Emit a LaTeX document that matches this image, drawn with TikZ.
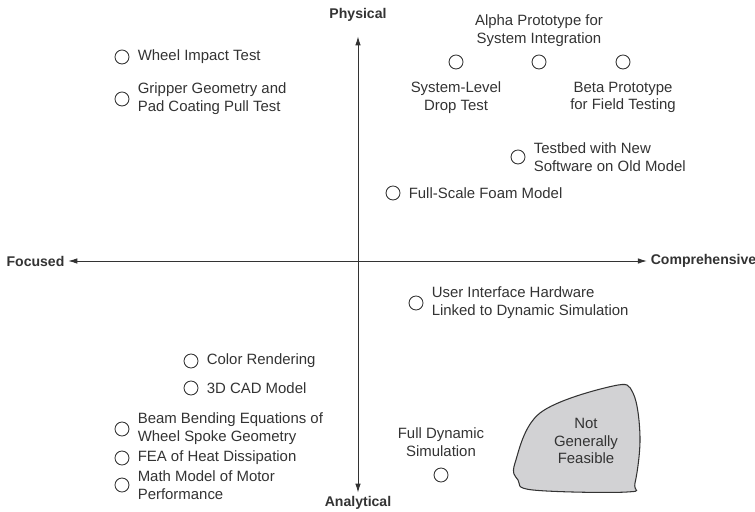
\documentclass[tikz,border=0pt]{standalone}
\usepackage{fontspec}
\setmainfont{Liberation Sans}
\usepackage{tikz}
\usetikzlibrary{positioning, arrows.meta}

\definecolor{inkgray}{HTML}{333333}
\definecolor{blobfill}{HTML}{D2D2D4}

\tikzset{
  dot/.style={circle, draw=inkgray, line width=0.5pt, minimum size=0.28cm, inner sep=0},
  item/.style={font=\fontsize{8.5}{10.2}\selectfont, text=inkgray, inner sep=0, align=left},
  axislabel/.style={font=\fontsize{8}{9.6}\selectfont\bfseries, text=inkgray, inner sep=2pt},
  axis/.style={draw=inkgray, line width=0.5pt, {Latex[length=1.8mm,width=1.1mm]}-{Latex[length=1.8mm,width=1.1mm]}},
}

\begin{document}
\begin{tikzpicture}
      \useasboundingbox (-7.16,-5.0) rectangle (7.94,5.22);
      % the two axes
      \node[axislabel] (phys) at (0,4.92) {Physical};
      \node[axislabel] (anal) at (0,-4.84) {Analytical};
      \node[axislabel] (foc) at (-6.45,0) {Focused};
      \node[axislabel] (comp) at (6.91,0) {Comprehensive};
      \draw[axis, shorten <=0.22cm] (phys) -- (anal);
      \draw[axis] (foc) -- (comp);
      % prototypes with the label on the right
      \foreach \x/\y/\nm/\txt in {
          -4.72/4.08/wheel/{Wheel Impact Test},
          -4.72/3.24/grip/{Gripper Geometry and\\Pad Coating Pull Test},
          3.20/2.08/testbed/{Testbed with New\\Software on Old Model},
          0.70/1.36/foam/{Full-Scale Foam Model},
          1.16/-0.84/ui/{User Interface Hardware\\Linked to Dynamic Simulation},
          -3.34/-2.00/color/{Color Rendering},
          -3.34/-2.54/cad/{3D CAD Model},
          -4.72/-3.36/beam/{Beam Bending Equations of\\Wheel Spoke Geometry},
          -4.72/-3.94/fea/{FEA of Heat Dissipation},
          -4.72/-4.48/math/{Math Model of Motor\\Performance}} {
        \node[dot] (\nm) at (\x,\y) {};
        \node[item, right=0.16cm of \nm] (\nm-txt) {\txt};
      }
      % prototypes with the label above or below
      \node[dot] (alpha) at (3.62,3.98) {};
      \node[dot] (drop) at (1.96,3.98) {};
      \node[dot] (beta) at (5.30,3.98) {};
      \node[dot] (fulldyn) at (1.66,-4.28) {};
      \node[item, align=center, above=0.16cm of alpha] (alpha-txt) {Alpha Prototype for\\System Integration};
      \node[item, align=center, below=0.24cm of drop] (drop-txt) {System-Level\\Drop Test};
      \node[item, align=center, below=0.24cm of beta] (beta-txt) {Beta Prototype\\for Field Testing};
      \node[item, align=center, above=0.22cm of fulldyn] (fulldyn-txt) {Full Dynamic\\Simulation};
      % infeasible corner
      \draw[draw=inkgray, fill=blobfill, line width=0.6pt] plot[smooth cycle, tension=0.6] coordinates {
          (3.14,-4.04) (3.64,-3.04) (5.10,-2.50) (5.50,-2.64) (5.64,-3.52)
          (5.54,-4.44) (5.38,-4.62) (3.50,-4.58) (3.20,-4.38)};
      \node[item, align=center] (nogo) at (4.56,-3.60) {Not\\Generally\\Feasible};
\end{tikzpicture}
\end{document}
